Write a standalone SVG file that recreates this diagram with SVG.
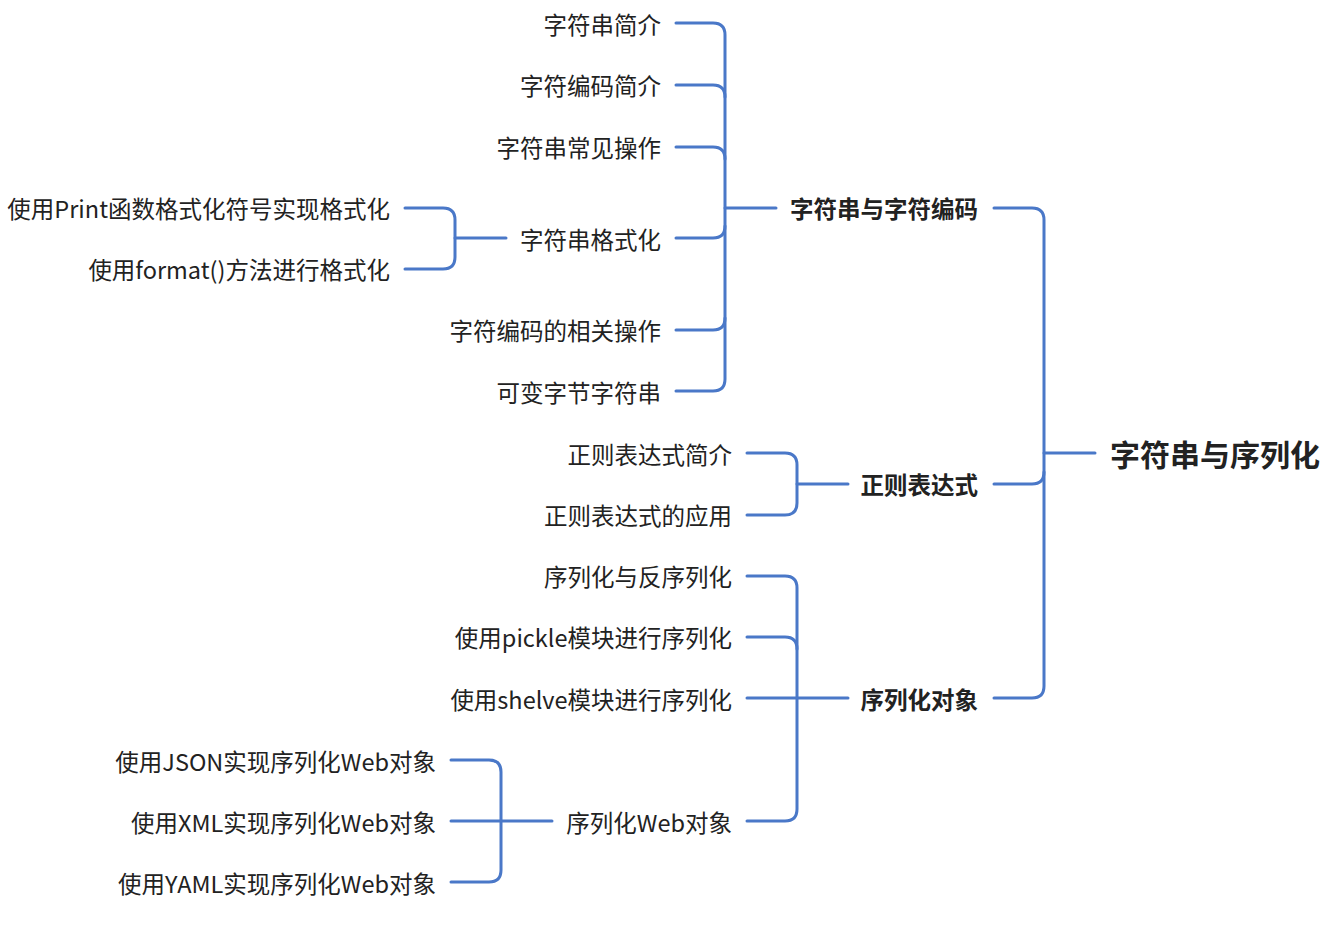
<svg xmlns="http://www.w3.org/2000/svg" width="1329" height="930" viewBox="0 0 1329 930">
<style>
.c{fill:none;stroke:#4a78c8;stroke-width:3;stroke-linecap:round;stroke-linejoin:round}
text{font-family:"Noto Sans CJK SC","Noto Sans",sans-serif;fill:#222;font-size:23.5px}
.l{text-anchor:end}
.b{font-weight:bold;text-anchor:end}
.r{font-weight:bold;font-size:30px}
</style>
<rect width="1329" height="930" fill="#fff"/>
<g id="connectors">
<path class="c" d="M1044,453 H1095"/>
<path class="c" d="M994,208 H1032 Q1044,208 1044,220 V686 Q1044,698 1032,698 H994"/>
<path class="c" d="M994,484 H1032 Q1044,484 1044,472"/>
<path class="c" d="M725,208 H776"/>
<path class="c" d="M676,23 H713 Q725,23 725,35 V379 Q725,391 713,391 H676"/>
<path class="c" d="M676,85 H713 Q725,85 725,97"/>
<path class="c" d="M676,147 H713 Q725,147 725,159"/>
<path class="c" d="M676,238 H713 Q725,238 725,226"/>
<path class="c" d="M676,330 H713 Q725,330 725,318"/>
<path class="c" d="M455,238 H506"/>
<path class="c" d="M405,208 H443 Q455,208 455,220 V257 Q455,269 443,269 H405"/>
<path class="c" d="M797,484 H848"/>
<path class="c" d="M747,453 H785 Q797,453 797,465 V503 Q797,515 785,515 H747"/>
<path class="c" d="M747,698 H848"/>
<path class="c" d="M747,576 H785 Q797,576 797,588 V809 Q797,821 785,821 H747"/>
<path class="c" d="M747,637 H785 Q797,637 797,649"/>
<path class="c" d="M451,821 H552"/>
<path class="c" d="M451,760 H489 Q501,760 501,772 V870 Q501,882 489,882 H451"/>
</g>
<g id="root"><text class="r" x="1110" y="466">字符串与序列化</text></g>
<g id="n1"><text class="b" x="978" y="218">字符串与字符编码</text></g>
<g id="n2"><text class="b" x="978" y="494">正则表达式</text></g>
<g id="n3"><text class="b" x="978" y="709">序列化对象</text></g>
<g id="n1a"><text class="l" x="661" y="34">字符串简介</text></g>
<g id="n1b"><text class="l" x="661" y="95">字符编码简介</text></g>
<g id="n1c"><text class="l" x="661" y="157">字符串常见操作</text></g>
<g id="n1d"><text class="l" x="661" y="249">字符串格式化</text></g>
<g id="n1e"><text class="l" x="661" y="340">字符编码的相关操作</text></g>
<g id="n1f"><text class="l" x="661" y="402">可变字节字符串</text></g>
<g id="n1d1"><text class="l" x="390" y="218">使用Print函数格式化符号实现格式化</text></g>
<g id="n1d2"><text class="l" x="390" y="279">使用format()方法进行格式化</text></g>
<g id="n2a"><text class="l" x="732" y="464">正则表达式简介</text></g>
<g id="n2b"><text class="l" x="732" y="525">正则表达式的应用</text></g>
<g id="n3a"><text class="l" x="732" y="586">序列化与反序列化</text></g>
<g id="n3b"><text class="l" x="732" y="647">使用pickle模块进行序列化</text></g>
<g id="n3c"><text class="l" x="732" y="709">使用shelve模块进行序列化</text></g>
<g id="n3d"><text class="l" x="732" y="832">序列化Web对象</text></g>
<g id="n3d1"><text class="l" x="436" y="771">使用JSON实现序列化Web对象</text></g>
<g id="n3d2"><text class="l" x="436" y="832">使用XML实现序列化Web对象</text></g>
<g id="n3d3"><text class="l" x="436" y="893">使用YAML实现序列化Web对象</text></g>
</svg>
